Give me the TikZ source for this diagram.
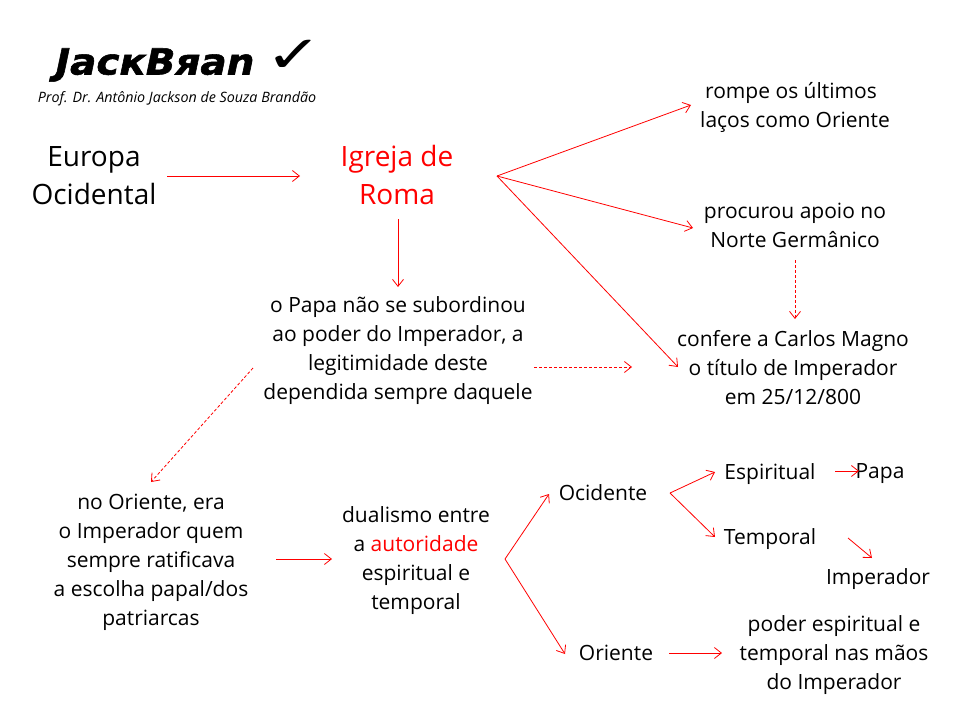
\documentclass[tikz,border=0pt]{standalone}
\usepackage{fontspec}
\setmainfont{Open Sans}
\newfontfamily\logofont{DejaVu Sans}[BoldItalicFeatures={FakeBold=1.5}]
\usetikzlibrary{arrows.meta}
\definecolor{arrred}{RGB}{255,0,0}
\tikzset{
  x=1pt,y=-1pt,
  arr/.style={draw=arrred,line width=0.8pt,-{Straight Barb[length=7pt,width=11pt,line width=0.8pt]}},
  darr/.style={arr,dash pattern=on 3pt off 2pt},
  big/.style={inner sep=0pt,align=center,font=\fontsize{28}{38}\selectfont},
  txt/.style={inner sep=0pt,align=center,font=\fontsize{21}{29}\selectfont},
}
\newcommand{\rp}[3]{([shift={(#2,#3)}]#1.center)}
\begin{document}
\begin{tikzpicture}
\useasboundingbox (0,0) rectangle (960,720);
\node[inner sep=0pt] (logo) at (155,65) {\scalebox{1.08}[1]{\logofont\fontsize{36}{40}\selectfont\bfseries\itshape JacкBяan}};
\node[inner sep=0pt] (check) at (294,56) {\scalebox{1.8}[1.35]{\logofont\fontsize{38}{40}\selectfont ✓}};
\node[inner sep=0pt,font=\fontsize{14.3}{17}\selectfont\itshape] (prof) at (177,99) {Prof. Dr. Antônio Jackson de Souza Brandão};
\node[big] (europa) at (94,176) {Europa\\Ocidental};
\node[big,text=arrred] (igreja) at (397,174.5) {Igreja de\\Roma};
\node[txt] (rompe) at (795,107) {rompe os últimos\hspace{8pt}\mbox{}\\laços como Oriente};
\node[txt] (procurou) at (795,225) {procurou apoio no\\Norte Germânico};
\node[txt] (confere) at (793,368) {confere a Carlos Magno\\o título de Imperador\\em 25/12/800};
\node[txt] (papa) at (398,351) {o Papa não se subordinou\\ao poder do Imperador, a\\legitimidade deste\\dependida sempre daquele};
\node[txt] (noriente) at (151,562) {no Oriente, era\\o Imperador quem\\sempre ratificava\\a escolha papal/dos\\patriarcas};
\node[txt] (dual) at (416,561) {dualismo entre\\a {\color{arrred}autoridade}\\espiritual e\\temporal};
\node[txt] (ocid) at (603,493) {Ocidente};
\node[txt] (orie) at (616,653) {Oriente};
\node[txt] (esp) at (770,474) {Espiritual};
\node[txt] (papaw) at (880,474) {Papa};
\node[txt] (temp) at (770,539) {Temporal};
\node[txt] (imp) at (878,579) {Imperador};
\node[txt] (poder) at (834,655) {poder espiritual e\\temporal nas mãos\\do Imperador};
\draw[arr] \rp{europa}{73}{0} -- \rp{igreja}{-97}{1.5};
\draw[arr] \rp{igreja}{100}{1.5} -- \rp{rompe}{-104}{-2};
\draw[arr] \rp{igreja}{100}{1.5} -- \rp{procurou}{-102}{3};
\draw[arr] \rp{igreja}{100}{1.5} -- \rp{confere}{-115}{-1};
\draw[arr] \rp{igreja}{1}{44.5} -- \rp{papa}{0}{-64};
\draw[darr] \rp{procurou}{0}{35} -- \rp{confere}{2}{-49};
\draw[darr] \rp{papa}{136}{16} -- \rp{confere}{-161}{-1};
\draw[darr] \rp{papa}{-145}{17} -- \rp{noriente}{0}{-80};
\draw[arr] \rp{noriente}{125}{-3} -- \rp{dual}{-84}{-2};
\draw[arr] \rp{dual}{89}{-2} -- \rp{ocid}{-54}{1};
\draw[arr] \rp{dual}{89}{-2} -- \rp{orie}{-51}{1};
\draw[arr] \rp{ocid}{67}{0} -- \rp{esp}{-55}{-2};
\draw[arr] \rp{ocid}{67}{0} -- \rp{temp}{-55}{-2};
\draw[arr] \rp{esp}{65}{-3} -- \rp{papaw}{-21}{-3};
\draw[arr] \rp{temp}{78}{-1} -- \rp{imp}{-6}{-21};
\draw[arr] \rp{orie}{53}{0} -- \rp{poder}{-112}{-2};
\end{tikzpicture}
\end{document}
